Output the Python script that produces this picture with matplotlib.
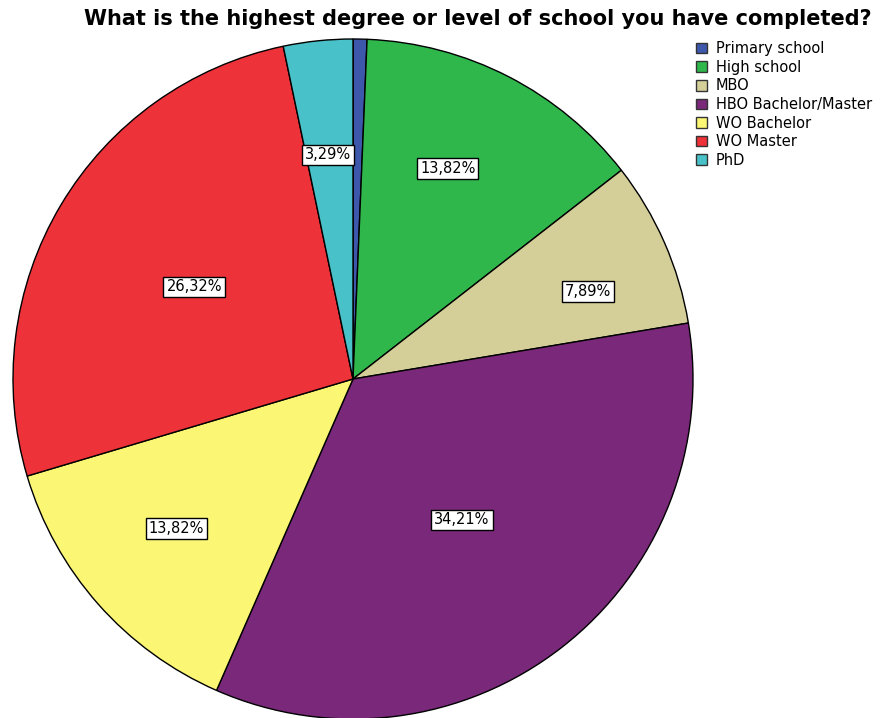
import numpy as np
import matplotlib.pyplot as plt
from matplotlib.patches import Patch

# data (N = 152)
categories = ["Primary school", "High school", "MBO", "HBO Bachelor/Master",
              "WO Bachelor", "WO Master", "PhD"]
percent = [0.66, 13.82, 7.89, 34.21, 13.82, 26.32, 3.29]
shown = [False, True, True, True, True, True, True]

colors = ["#3d57ab", "#2fb74c", "#d4ce99", "#79287a", "#fbf674", "#ed3239", "#49c1c8"]
# label placement: fraction of radius and small angle nudge (degrees, ccw)
label_r = [0.6, 0.678, 0.738, 0.524, 0.68, 0.54, 0.663]
label_nudge = [0, 3.0, -3.2, -0.2, -1.3, 0.7, 0.5]

W, H = 881, 718
fig = plt.figure(figsize=(W / 100, H / 100), dpi=100)

# pie centre at (353, 379) px, radius 340 px
cx, cy, r = 353, 379, 340
ax = fig.add_axes([(cx - r) / W, (H - cy - r) / H, 2 * r / W, 2 * r / H])

wedges, _ = ax.pie(percent, colors=colors, startangle=90, counterclock=False,
                   radius=1.0, wedgeprops=dict(edgecolor="black", linewidth=1.0))
ax.set_xlim(-1, 1)
ax.set_ylim(-1, 1)
ax.set_aspect("equal")
ax.axis("off")

for w, p, s, lr, nd in zip(wedges, percent, shown, label_r, label_nudge):
    if not s:
        continue
    ang = np.deg2rad((w.theta1 + w.theta2) / 2 + nd)
    txt = ("%.2f%%" % p).replace(".", ",")
    ax.text(lr * np.cos(ang), lr * np.sin(ang), txt, ha="center", va="center",
            fontsize=10.5,
            bbox=dict(boxstyle="square,pad=0.2", fc="white", ec="black", lw=1.0))

fig.text(478 / W, 1 - 19 / H, "What is the highest degree or level of school you have completed?",
         ha="center", va="center", fontsize=15, fontweight="bold")

handles = [Patch(facecolor=c, edgecolor="#333333", linewidth=1.0) for c in colors]
fig.legend(handles, categories, loc="upper left", bbox_to_anchor=(696 / W, 1 - 41 / H),
           frameon=False, fontsize=10.5, handlelength=0.75, handleheight=0.75,
           handletextpad=0.6, labelspacing=0.25, borderpad=0, borderaxespad=0)

fig.savefig("out.png", dpi=100)
